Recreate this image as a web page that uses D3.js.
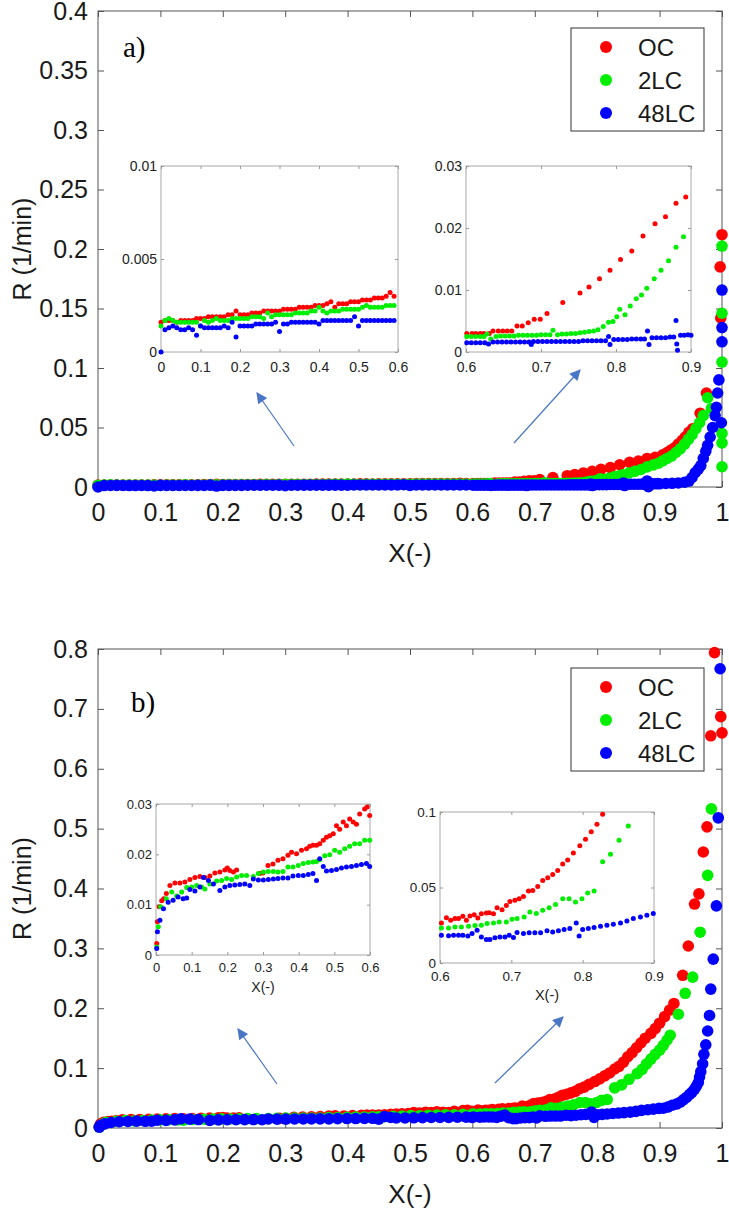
<!DOCTYPE html>
<html><head><meta charset="utf-8">
<script src="https://cdn.jsdelivr.net/npm/d3@7"></script>
<style>body{margin:0;background:#fff}svg{display:block}</style>
</head><body>
<svg id="c" width="729" height="1209"></svg>
<script>
// ---------------- DATA ----------------
const seriesNames = ["OC", "2LC", "48LC"];
const xTicksMain = [0, 0.1, 0.2, 0.3, 0.4, 0.5, 0.6, 0.7, 0.8, 0.9, 1];
const aYTicks = [0, 0.05, 0.1, 0.15, 0.2, 0.25, 0.3, 0.35, 0.4];
const bYTicks = [0, 0.1, 0.2, 0.3, 0.4, 0.5, 0.6, 0.7, 0.8];
const inset1XTicks = [0, 0.1, 0.2, 0.3, 0.4, 0.5, 0.6];
const inset2XTicks = [0.6, 0.7, 0.8, 0.9];
const a1YTicks = [0, 0.005, 0.01];
const a2YTicks = [0, 0.01, 0.02, 0.03];
const b1YTicks = [0, 0.01, 0.02, 0.03];
const b2YTicks = [0, 0.05, 0.1];

// Panel a) low conversion range (x grid shared by the three series)
const xLowA = [0,0.01,0.02,0.03,0.04,0.05,0.06,0.07,0.08,0.09,0.10,0.11,0.12,0.13,0.14,0.15,0.16,0.17,0.18,0.19,
  0.20,0.21,0.22,0.23,0.24,0.25,0.26,0.27,0.28,0.29,0.30,0.31,0.32,0.33,0.34,0.35,0.36,0.37,0.38,0.39,
  0.40,0.41,0.42,0.43,0.44,0.45,0.46,0.47,0.48,0.49,0.50,0.51,0.52,0.53,0.54,0.55,0.56,0.57,0.58,0.59];
const aOC_low = [0.0016,0.0017,0.0017,0.0017,0.0016,0.0017,0.0017,0.0017,0.0017,0.0018,
  0.0018,0.0018,0.0019,0.0019,0.0019,0.0019,0.0019,0.0020,0.0020,0.0022,
  0.0020,0.0020,0.0020,0.0021,0.0021,0.0021,0.0022,0.0022,0.0022,0.0022,
  0.0022,0.0023,0.0023,0.0023,0.0023,0.0024,0.0024,0.0024,0.0024,0.0025,
  0.0025,0.0025,0.0026,0.0027,0.0024,0.0026,0.0026,0.0026,0.0027,0.0027,
  0.0027,0.0028,0.0028,0.0028,0.0029,0.0029,0.0029,0.0030,0.0032,0.0030];
const a2LC_low = [0.0014,0.0017,0.0018,0.0017,0.0016,0.0016,0.0016,0.0016,0.0016,0.0016,
  0.0014,0.0017,0.0016,0.0017,0.0018,0.0017,0.0017,0.0017,0.0018,0.0018,
  0.0018,0.0018,0.0018,0.0019,0.0019,0.0019,0.0018,0.0021,0.0019,0.0020,
  0.0020,0.0020,0.0020,0.0020,0.0021,0.0021,0.0021,0.0021,0.0022,0.0022,
  0.0024,0.0022,0.0021,0.0022,0.0022,0.0022,0.0023,0.0023,0.0023,0.0023,
  0.0023,0.0024,0.0025,0.0024,0.0024,0.0024,0.0024,0.0025,0.0025,0.0025];
const a48LC_low = [0.0000,0.0012,0.0013,0.0014,0.0013,0.0012,0.0012,0.0013,0.0012,0.0009,
  0.0014,0.0013,0.0013,0.0013,0.0013,0.0013,0.0014,0.0013,0.0016,0.0008,
  0.0014,0.0014,0.0014,0.0014,0.0015,0.0015,0.0015,0.0015,0.0015,0.0016,
  0.0011,0.0015,0.0015,0.0016,0.0016,0.0016,0.0016,0.0016,0.0016,0.0016,
  0.0015,0.0017,0.0017,0.0017,0.0017,0.0017,0.0017,0.0017,0.0017,0.0019,
  0.0014,0.0017,0.0017,0.0017,0.0017,0.0017,0.0017,0.0017,0.0017,0.0017];

// Panel a) 0.6-0.9 range [X, R]
const aOC_mid = [[0.601,0.0030],[0.608,0.0030],[0.613,0.0030],[0.619,0.0030],[0.624,0.0030],[0.631,0.0030],
  [0.636,0.0034],[0.643,0.0034],[0.649,0.0034],[0.655,0.0034],[0.661,0.0034],[0.668,0.0042],[0.675,0.0042],
  [0.683,0.0047],[0.691,0.0053],[0.699,0.0053],[0.708,0.0062],[0.729,0.0080],[0.752,0.0095],[0.764,0.0105],
  [0.778,0.0118],[0.792,0.0132],[0.806,0.0149],[0.821,0.0163],[0.836,0.0187],[0.852,0.0207],[0.866,0.0218],
  [0.880,0.0240],[0.893,0.0250]];
const a2LC_mid = [[0.601,0.0025],[0.607,0.0025],[0.613,0.0025],[0.619,0.0025],[0.624,0.0025],[0.628,0.0029],
  [0.633,0.0021],[0.640,0.0025],[0.646,0.0026],[0.652,0.0026],[0.658,0.0026],[0.664,0.0026],[0.670,0.0027],
  [0.676,0.0027],[0.682,0.0027],[0.688,0.0027],[0.694,0.0027],[0.700,0.0028],[0.706,0.0028],[0.712,0.0028],
  [0.716,0.0035],[0.722,0.0028],[0.728,0.0029],[0.734,0.0029],[0.740,0.0030],[0.746,0.0030],[0.752,0.0031],
  [0.758,0.0032],[0.764,0.0033],[0.770,0.0034],[0.776,0.0036],[0.783,0.0041],[0.790,0.0048],[0.796,0.0049],
  [0.801,0.0057],[0.805,0.0069],[0.812,0.0060],[0.819,0.0074],[0.827,0.0086],[0.834,0.0092],[0.841,0.0103],
  [0.851,0.0118],[0.860,0.0132],[0.870,0.0147],[0.880,0.0169],[0.890,0.0186]];
const a48LC_mid = [[0.601,0.0015],[0.607,0.0015],[0.613,0.0015],[0.619,0.0015],[0.625,0.0015],[0.630,0.0013],
  [0.636,0.0016],[0.642,0.0016],[0.648,0.0016],[0.654,0.0016],[0.660,0.0016],[0.666,0.0016],[0.672,0.0016],
  [0.678,0.0016],[0.684,0.0016],[0.687,0.0012],[0.690,0.0017],[0.696,0.0017],[0.702,0.0017],[0.708,0.0017],
  [0.714,0.0017],[0.720,0.0017],[0.726,0.0017],[0.732,0.0017],[0.738,0.0017],[0.744,0.0017],[0.750,0.0017],
  [0.756,0.0018],[0.762,0.0018],[0.768,0.0018],[0.774,0.0018],[0.780,0.0018],[0.786,0.0018],[0.790,0.0025],
  [0.792,0.0012],[0.797,0.0020],[0.803,0.0020],[0.809,0.0020],[0.815,0.0020],[0.821,0.0021],[0.827,0.0021],
  [0.833,0.0021],[0.838,0.0021],[0.842,0.0034],[0.844,0.0012],[0.848,0.0023],[0.854,0.0023],[0.860,0.0023],
  [0.866,0.0023],[0.872,0.0024],[0.877,0.0024],[0.880,0.0051],[0.881,0.0013],[0.882,0.0003],[0.886,0.0027],
  [0.891,0.0027],[0.896,0.0028],[0.900,0.0027]];
// Panel a) high conversion tail (main plot only)
const aOC_tail = [[0.905,0.027],[0.912,0.029],[0.918,0.031],[0.924,0.033],[0.930,0.036],[0.936,0.039],[0.941,0.042],
  [0.947,0.046],[0.953,0.049],[0.965,0.062],[0.975,0.079],[0.997,0.185],[0.998,0.142],[1.0,0.212]];
const a2LC_tail = [[0.898,0.020],[0.905,0.022],[0.912,0.024],[0.919,0.026],[0.926,0.029],[0.933,0.032],[0.940,0.036],
  [0.946,0.040],[0.952,0.044],[0.958,0.049],[0.964,0.054],[0.970,0.060],[0.977,0.075],[0.983,0.066],
  [1.0,0.2025],[1.0,0.146],[1.0,0.105],[1.0,0.045],[1.0,0.037],[1.0,0.017]];
const a48LC_tail = [[0.91,0.0030],[0.92,0.0031],[0.93,0.0034],[0.94,0.0040],[0.947,0.0050],[0.952,0.0080],[0.957,0.012],
  [0.962,0.015],[0.966,0.018],[0.970,0.024],[0.974,0.030],[0.977,0.035],[0.981,0.042],[0.985,0.050],[0.989,0.060],
  [0.991,0.067],[0.993,0.079],[0.995,0.090],[0.999,0.054],[1.0,0.122],[1.0,0.134],[1.0,0.1655]];

// Panel b) 0-0.6 range [X, R]
const bOC_low = [[0.002,0.0023],[0.004,0.0066],[0.009,0.0096],[0.016,0.0108],[0.022,0.0112],[0.029,0.0122],[0.039,0.0138],
  [0.053,0.0143],[0.067,0.0143],[0.081,0.0145],[0.095,0.0150],[0.109,0.0154],[0.123,0.0156],[0.137,0.0154],[0.151,0.0157],
  [0.165,0.0163],[0.179,0.0165],[0.193,0.0169],[0.200,0.0173],[0.207,0.0168],[0.217,0.0165],[0.226,0.0169],[0.291,0.0162],
  [0.300,0.0163],[0.314,0.0178],[0.328,0.0181],[0.342,0.0188],[0.356,0.0191],[0.370,0.0198],[0.380,0.0204],[0.394,0.0201],
  [0.408,0.0208],[0.422,0.0211],[0.431,0.0216],[0.440,0.0218],[0.450,0.0218],[0.459,0.0221],[0.469,0.0228],[0.478,0.0234],
  [0.487,0.0237],[0.497,0.0241],[0.506,0.0257],[0.515,0.0250],[0.525,0.0264],[0.534,0.0257],[0.543,0.0270],[0.553,0.0264],
  [0.562,0.0260],[0.571,0.0280],[0.585,0.0290],[0.592,0.0294],[0.599,0.0277]];
const b2LC_low = [[0.002,0.0016],[0.0065,0.0056],[0.013,0.0096],[0.029,0.0112],[0.044,0.0125],[0.058,0.0117],[0.072,0.0125],
  [0.086,0.0134],[0.100,0.0135],[0.114,0.0138],[0.128,0.0135],[0.137,0.0131],[0.151,0.0141],[0.170,0.0147],[0.184,0.0148],
  [0.198,0.0152],[0.212,0.0150],[0.226,0.0155],[0.240,0.0158],[0.254,0.0158],[0.273,0.0156],[0.287,0.0162],[0.301,0.0165],
  [0.315,0.0166],[0.329,0.0166],[0.342,0.0165],[0.356,0.0166],[0.370,0.0175],[0.384,0.0175],[0.399,0.0178],[0.413,0.0182],
  [0.427,0.0184],[0.440,0.0185],[0.450,0.0186],[0.459,0.0189],[0.473,0.0197],[0.487,0.0199],[0.501,0.0208],[0.515,0.0204],
  [0.529,0.0211],[0.543,0.0216],[0.557,0.0221],[0.571,0.0221],[0.585,0.0228],[0.599,0.0228]];
const b48LC_low = [[0.002,0.0013],[0.004,0.0046],[0.011,0.0069],[0.021,0.0092],[0.034,0.0105],[0.048,0.0109],[0.062,0.0115],
  [0.076,0.0112],[0.086,0.0113],[0.095,0.0130],[0.109,0.0127],[0.123,0.0135],[0.133,0.0154],[0.147,0.0148],[0.161,0.0141],
  [0.179,0.0128],[0.193,0.0135],[0.207,0.0138],[0.221,0.0139],[0.235,0.0140],[0.249,0.0141],[0.263,0.0138],[0.273,0.0151],
  [0.287,0.0149],[0.301,0.0149],[0.315,0.0150],[0.329,0.0151],[0.342,0.0152],[0.356,0.0153],[0.370,0.0153],[0.384,0.0157],
  [0.399,0.0158],[0.413,0.0158],[0.427,0.0160],[0.440,0.0162],[0.450,0.0148],[0.459,0.0191],[0.469,0.0176],[0.478,0.0167],
  [0.492,0.0168],[0.506,0.0170],[0.520,0.0173],[0.534,0.0175],[0.548,0.0176],[0.562,0.0178],[0.576,0.0180],[0.590,0.0182],
  [0.599,0.0176]];
// Panel b) 0.6-0.9 range
const bOC_mid = [[0.602,0.0265],[0.609,0.0300],[0.615,0.0283],[0.621,0.0294],[0.626,0.0294],[0.632,0.0309],[0.637,0.0283],
  [0.642,0.0311],[0.648,0.0320],[0.653,0.0298],[0.658,0.0326],[0.665,0.0331],[0.669,0.0333],[0.675,0.0326],[0.680,0.0366],
  [0.687,0.0353],[0.693,0.0381],[0.698,0.0408],[0.705,0.0415],[0.711,0.0426],[0.717,0.0441],[0.724,0.0476],[0.730,0.0480],
  [0.737,0.0507],[0.744,0.0546],[0.751,0.0564],[0.758,0.0586],[0.765,0.0612],[0.772,0.0656],[0.779,0.0682],[0.787,0.0728],
  [0.796,0.0776],[0.804,0.0820],[0.812,0.0870],[0.820,0.0919],[0.828,0.0985]];
const b2LC_mid = [[0.602,0.0232],[0.612,0.0232],[0.621,0.0239],[0.630,0.0239],[0.640,0.0243],[0.649,0.0248],[0.658,0.0250],
  [0.666,0.0261],[0.675,0.0265],[0.683,0.0272],[0.693,0.0272],[0.701,0.0289],[0.708,0.0294],[0.718,0.0305],[0.726,0.0338],
  [0.735,0.0327],[0.744,0.0349],[0.753,0.0366],[0.762,0.0388],[0.772,0.0426],[0.781,0.0426],[0.790,0.0404],[0.799,0.0426],
  [0.807,0.0463],[0.816,0.0476],[0.828,0.0670],[0.839,0.0721],[0.851,0.0813],[0.864,0.0908]];
const b48LC_mid = [[0.602,0.0184],[0.612,0.0180],[0.619,0.0184],[0.626,0.0184],[0.632,0.0184],[0.639,0.0178],[0.645,0.0195],
  [0.652,0.0217],[0.658,0.0173],[0.665,0.0156],[0.670,0.0156],[0.677,0.0167],[0.684,0.0173],[0.691,0.0173],[0.697,0.0184],
  [0.703,0.0169],[0.708,0.0202],[0.717,0.0195],[0.725,0.0200],[0.733,0.0200],[0.741,0.0200],[0.750,0.0213],[0.758,0.0206],
  [0.766,0.0213],[0.774,0.0222],[0.782,0.0228],[0.791,0.0265],[0.795,0.0178],[0.800,0.0222],[0.808,0.0228],[0.816,0.0235],
  [0.825,0.0243],[0.834,0.0250],[0.843,0.0256],[0.853,0.0265],[0.862,0.0278],[0.871,0.0294],[0.881,0.0305],[0.890,0.0316],
  [0.899,0.0327]];
// Panel b) tail
const bOC_tail = [[0.835,0.103],[0.842,0.110],[0.849,0.119],[0.856,0.126],[0.863,0.134],[0.870,0.142],[0.877,0.150],
  [0.886,0.158],[0.893,0.166],[0.900,0.175],[0.908,0.186],[0.916,0.197],[0.923,0.208],[0.937,0.255],[0.946,0.304],
  [0.956,0.374],[0.963,0.391],[0.970,0.461],[0.976,0.503],[0.982,0.655],[0.988,0.794],[0.998,0.687],[1.0,0.660]];
const b2LC_tail = [[0.872,0.098],[0.879,0.107],[0.886,0.115],[0.893,0.123],[0.900,0.130],[0.906,0.138],[0.912,0.147],
  [0.917,0.155],[0.930,0.190],[0.941,0.225],[0.953,0.252],[0.965,0.327],[0.977,0.422],[0.983,0.533]];
const b48LC_tail = [[0.906,0.033],[0.913,0.035],[0.920,0.038],[0.927,0.040],[0.933,0.043],[0.938,0.047],[0.943,0.051],
  [0.948,0.056],[0.952,0.060],[0.956,0.065],[0.959,0.070],[0.962,0.076],[0.964,0.085],[0.966,0.094],[0.969,0.107],
  [0.971,0.123],[0.974,0.139],[0.977,0.162],[0.980,0.188],[0.982,0.232],[0.986,0.282],[0.991,0.371],[0.994,0.518],
  [0.997,0.767]];

// ---------------- DRAWING ----------------
const COLORS = ["#ff0000", "#00ee00", "#0000ff"];
const FONT = "'Liberation Sans', Arial, Helvetica, sans-serif";
const AXC = "#555";
const ARROWC = "#4a76c6";
const svg = d3.select("#c");

svg.append("defs").append("marker").attr("id","ah").attr("viewBox","0 0 10 10")
  .attr("refX",9).attr("refY",5).attr("markerWidth",4).attr("markerHeight",4)
  .attr("markerUnits","userSpaceOnUse").attr("orient","auto")
  .attr("markerWidth",13).attr("markerHeight",11)
  .append("path").attr("d","M0,0 L10,5 L0,10 Z").attr("fill",ARROWC);

const zipLow = (xs, ys) => xs.map((v, i) => [v, ys[i]]);

function styleAxis(sel, fs) {
  sel.select(".domain").remove();
  sel.selectAll(".tick line").attr("stroke", AXC);
  sel.selectAll(".tick text").attr("fill", "#1a1a1a").style("font-family", FONT).style("font-size", fs + "px");
}

function drawMain(P) {
  const g = svg.append("g");
  const x = d3.scaleLinear().domain([0, 1]).range([P.left, P.right]);
  const y = d3.scaleLinear().domain([0, P.yMax]).range([P.bottom, P.top]);
  g.append("rect").attr("x", P.left).attr("y", P.top).attr("width", P.right - P.left)
    .attr("height", P.bottom - P.top).attr("fill", "none").attr("stroke", AXC).attr("stroke-width", 1);
  g.append("g").attr("transform", `translate(0,${P.bottom})`)
    .call(d3.axisBottom(x).tickValues(xTicksMain).tickFormat(d => String(d)).tickSize(-6).tickSizeOuter(0).tickPadding(16))
    .call(s => styleAxis(s, 25));
  g.append("g").attr("transform", `translate(0,${P.top})`)
    .call(d3.axisTop(x).tickValues(xTicksMain).tickFormat("").tickSize(-6).tickSizeOuter(0))
    .call(s => styleAxis(s, 25));
  g.append("g").attr("transform", `translate(${P.left},0)`)
    .call(d3.axisLeft(y).tickValues(P.yTicks).tickFormat(d => String(d)).tickSize(-6).tickSizeOuter(0).tickPadding(10))
    .call(s => styleAxis(s, 25));
  g.append("g").attr("transform", `translate(${P.right},0)`)
    .call(d3.axisRight(y).tickValues(P.yTicks).tickFormat("").tickSize(-6).tickSizeOuter(0))
    .call(s => styleAxis(s, 25));
  // labels
  g.append("text").attr("x", (P.left + P.right) / 2).attr("y", P.bottom + 75).attr("text-anchor", "middle")
    .style("font-family", FONT).style("font-size", "26px").attr("fill", "#1a1a1a").text("X(-)");
  g.append("text").attr("transform", `translate(31,${(P.top + P.bottom) / 2}) rotate(-90)`).attr("text-anchor", "middle")
    .style("font-family", FONT).style("font-size", "25px").attr("fill", "#1a1a1a").text("R (1/min)");
  g.append("text").attr("x", P.tagX).attr("y", P.tagY).style("font-family", "'Liberation Serif', 'Times New Roman', serif")
    .style("font-size", "29px").attr("fill", "#000").text(P.tag);
  // data
  P.series.forEach((s, i) => {
    g.append("g").selectAll("circle").data(s).join("circle")
      .attr("cx", d => x(d[0])).attr("cy", d => y(d[1])).attr("r", 5.8).attr("fill", COLORS[i]);
  });
  // insets
  P.insets.forEach(I => drawInset(I));
  // arrows
  P.arrows.forEach(a => {
    svg.append("line").attr("x1", a[0]).attr("y1", a[1]).attr("x2", a[2]).attr("y2", a[3])
      .attr("stroke", ARROWC).attr("stroke-width", 1.2).attr("marker-end", "url(#ah)");
  });
  // legend
  const L = P.legend;
  const lg = svg.append("g");
  lg.append("rect").attr("x", L.x).attr("y", L.y).attr("width", L.w).attr("height", L.h)
    .attr("fill", "#fff").attr("stroke", "#333").attr("stroke-width", 1);
  seriesNames.forEach((n, i) => {
    const cy = L.y + 19 + i * 33;
    lg.append("circle").attr("cx", L.x + 35).attr("cy", cy).attr("r", 6).attr("fill", COLORS[i]);
    lg.append("text").attr("x", L.x + 67).attr("y", cy + 8.5).style("font-family", FONT).style("font-size", "24px")
      .attr("fill", "#1a1a1a").text(n);
  });
}

function drawInset(I) {
  const g = svg.append("g");
  const x = d3.scaleLinear().domain(I.xDom).range([I.x0, I.x1]);
  const y = d3.scaleLinear().domain(I.yDom).range([I.y1, I.y0]);
  g.append("rect").attr("x", I.x0).attr("y", I.y0).attr("width", I.x1 - I.x0).attr("height", I.y1 - I.y0)
    .attr("fill", "#fff").attr("stroke", "#a8a8a8").attr("stroke-width", 1);
  const st = s => { s.select(".domain").remove(); s.selectAll(".tick line").attr("stroke", "#999");
    s.selectAll(".tick text").attr("fill", "#222").style("font-family", FONT).style("font-size", I.fs + "px"); };
  g.append("g").attr("transform", `translate(0,${I.y1})`)
    .call(d3.axisBottom(x).tickValues(I.xTicks).tickFormat(d => String(d)).tickSize(-3).tickSizeOuter(0).tickPadding(I.xPad)).call(st);
  g.append("g").attr("transform", `translate(0,${I.y0})`)
    .call(d3.axisTop(x).tickValues(I.xTicks).tickFormat("").tickSize(-3).tickSizeOuter(0)).call(st);
  g.append("g").attr("transform", `translate(${I.x0},0)`)
    .call(d3.axisLeft(y).tickValues(I.yTicks).tickFormat(d => String(d)).tickSize(-3).tickSizeOuter(0).tickPadding(4)).call(st);
  g.append("g").attr("transform", `translate(${I.x1},0)`)
    .call(d3.axisRight(y).tickValues(I.yTicks).tickFormat("").tickSize(-3).tickSizeOuter(0)).call(st);
  if (I.xLabel) {
    g.append("text").attr("x", (I.x0 + I.x1) / 2).attr("y", I.y1 + 37).attr("text-anchor", "middle")
      .style("font-family", FONT).style("font-size", (I.fs + 1) + "px").attr("fill", "#222").text("X(-)");
  }
  I.series.forEach((s, i) => {
    g.append("g").selectAll("circle").data(s).join("circle")
      .attr("cx", d => x(d[0])).attr("cy", d => y(d[1])).attr("r", 2.5).attr("fill", COLORS[i]);
  });
}

const aLow = [zipLow(xLowA, aOC_low), zipLow(xLowA, a2LC_low), zipLow(xLowA, a48LC_low)];
const aMid = [aOC_mid, a2LC_mid, a48LC_mid];
const aTail = [aOC_tail, a2LC_tail, a48LC_tail];
const bLow = [bOC_low, b2LC_low, b48LC_low];
const bMid = [bOC_mid, b2LC_mid, b48LC_mid];
const bTail = [bOC_tail, b2LC_tail, b48LC_tail];

drawMain({
  left: 98, right: 722, top: 11, bottom: 487, yMax: 0.4, yTicks: aYTicks,
  tag: "a)", tagX: 123, tagY: 57,
  series: [0, 1, 2].map(i => aLow[i].concat(aMid[i], aTail[i])),
  legend: { x: 571, y: 28, w: 133, h: 103 },
  arrows: [[294, 446, 257, 393], [514, 443, 580, 370]],
  insets: [
    { x0: 161, x1: 398, y0: 166, y1: 352, xDom: [0, 0.6], yDom: [0, 0.01], xTicks: inset1XTicks, yTicks: a1YTicks,
      fs: 14, xPad: 10, series: aLow },
    { x0: 466, x1: 691, y0: 166, y1: 352, xDom: [0.6, 0.9], yDom: [0, 0.03], xTicks: inset2XTicks, yTicks: a2YTicks,
      fs: 14, xPad: 10, series: aMid }
  ]
});

drawMain({
  left: 98, right: 722, top: 649, bottom: 1128, yMax: 0.8, yTicks: bYTicks,
  tag: "b)", tagX: 131, tagY: 712,
  series: [0, 1, 2].map(i => bLow[i].concat(bMid[i], bTail[i])),
  legend: { x: 571, y: 668, w: 133, h: 103 },
  arrows: [[277, 1084, 238, 1029], [495, 1083, 563, 1017]],
  insets: [
    { x0: 156, x1: 370, y0: 804, y1: 955, xDom: [0, 0.6], yDom: [0, 0.03], xTicks: inset1XTicks, yTicks: b1YTicks,
      fs: 13, xPad: 8, xLabel: true, series: bLow },
    { x0: 440, x1: 654, y0: 812, y1: 963, xDom: [0.6, 0.9], yDom: [0, 0.1], xTicks: inset2XTicks, yTicks: b2YTicks,
      fs: 13.5, xPad: 8, xLabel: true, series: bMid }
  ]
});
</script>
</body></html>
